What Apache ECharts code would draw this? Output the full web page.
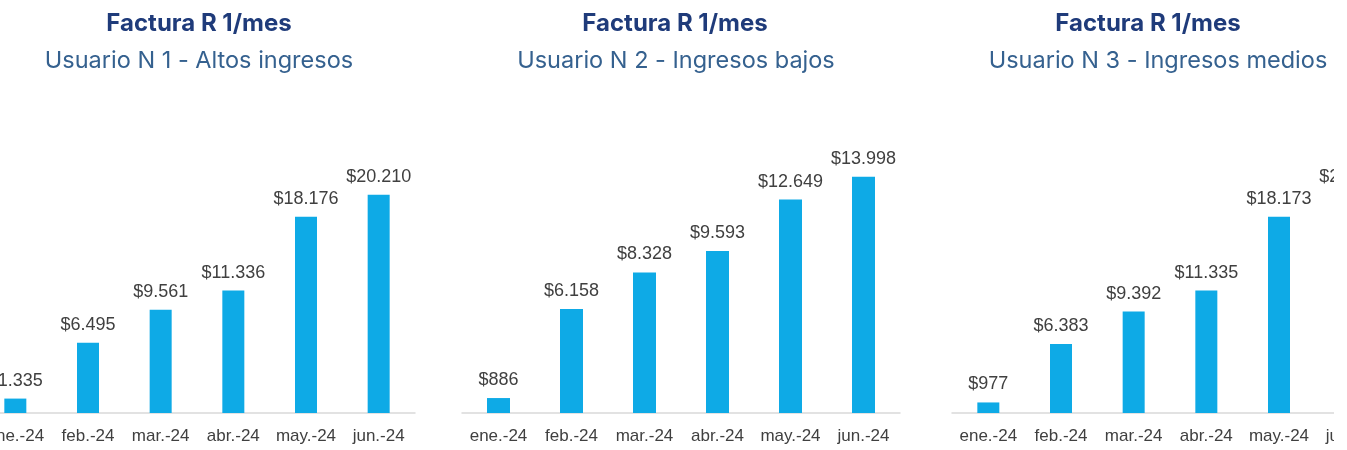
<!DOCTYPE html>
<html>
<head>
<meta charset="utf-8">
<script src="https://cdn.jsdelivr.net/npm/echarts@6/dist/echarts.min.js"></script>
<style>
  html, body { margin: 0; padding: 0; background: #ffffff; }
  /* la imagen original está recortada a ambos lados */
  .marco { position: relative; width: 1334px; height: 450px; overflow: hidden; }
  #chart { position: absolute; left: -30px; top: 0; width: 1420px; height: 450px; }
</style>
</head>
<body>
<div class="marco"><div id="chart"></div></div>
<script>
// meses y facturas por usuario
const meses = ['ene.-24', 'feb.-24', 'mar.-24', 'abr.-24', 'may.-24', 'jun.-24'];
const usuario1 = [1335, 6495, 9561, 11336, 18176, 20210];
const usuario2 = [886, 6158, 8328, 9593, 12649, 13998];
const usuario3 = [977, 6383, 9392, 11335, 18173, 20210]; // jun. cortado en la imagen, estimado
const titulos = ['Usuario N 1 - Altos ingresos', 'Usuario N 2 - Ingresos bajos', 'Usuario N 3 - Ingresos medios'];
const maximos = [25000, 16000, 25000];

const OFF = 30; // desplazamiento del lienzo
const series = [usuario1, usuario2, usuario3];
const grids = [
  { left: OFF - 21, width: 436, top: 143, height: 270 },
  { left: OFF + 462, width: 438, top: 143, height: 270 },
  { left: OFF + 952, width: 436, top: 143, height: 270 },
];
const centrosTitulo = [194, 670, 1143];
const centrosSub = [194, 671, 1153];

const miles = (v) => '$' + String(v).replace(/\B(?=(\d{3})+(?!\d))/g, '.');

const chart = echarts.init(document.getElementById('chart'));

const title = [];
titulos.forEach((t, i) => {
  title.push({
    text: 'Factura R 1/mes',
    left: OFF + centrosTitulo[i],
    top: 7,
    textAlign: 'center',
    textStyle: { fontFamily: 'Inter', fontWeight: 'bold', fontSize: 24, color: '#1f3b7a' },
  });
  title.push({
    text: t,
    left: OFF + centrosSub[i],
    top: 44,
    textAlign: 'center',
    textStyle: { fontFamily: 'Inter', fontWeight: 'normal', fontSize: 23.5, color: '#35618f' },
  });
});

chart.setOption({
  animation: false,
  backgroundColor: '#ffffff',
  title: title,
  grid: grids,
  xAxis: series.map((_, i) => ({
    type: 'category',
    gridIndex: i,
    data: meses,
    axisTick: { show: false },
    axisLine: { lineStyle: { color: '#d9d9d9', width: 1.5 } },
    axisLabel: { interval: 0, margin: 15, fontFamily: 'Liberation Sans', fontSize: 17, color: '#404040' },
  })),
  yAxis: series.map((_, i) => ({
    type: 'value',
    gridIndex: i,
    min: 0,
    max: maximos[i],
    show: false,
    splitLine: { show: false },
  })),
  series: series.map((datos, i) => ({
    type: 'bar',
    xAxisIndex: i,
    yAxisIndex: i,
    data: datos,
    barWidth: i === 1 ? 23 : 22,
    itemStyle: { color: '#0eaae6' },
    label: {
      show: true,
      position: 'top',
      distance: 9,
      fontFamily: 'Liberation Sans',
      fontSize: 18,
      color: '#404040',
      formatter: (p) => miles(p.value),
    },
  })),
});
</script>
</body>
</html>
